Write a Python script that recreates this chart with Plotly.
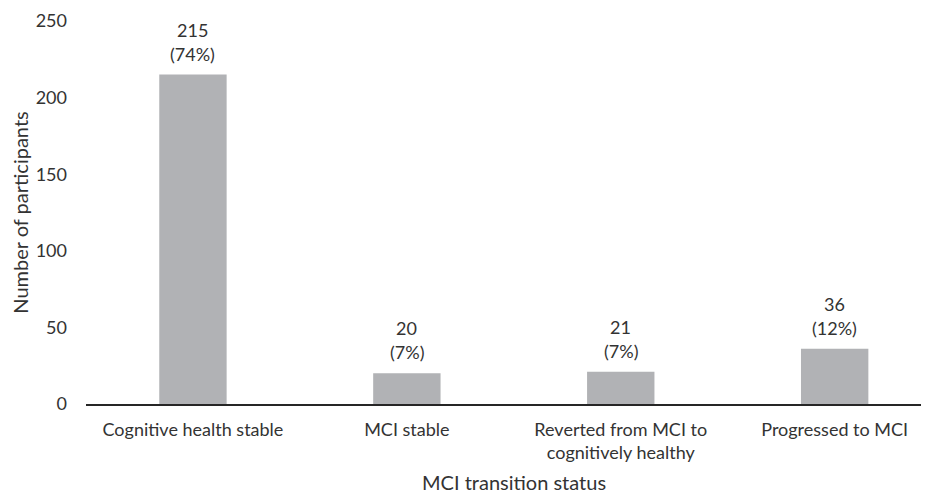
import plotly.graph_objects as go

categories = ["Cognitive health stable", "MCI stable", "Reverted from MCI to<br>cognitively healthy", "Progressed to MCI"]
counts = [215, 20, 21, 36]
percents = ["74%", "7%", "7%", "12%"]
y_ticks = [0, 50, 100, 150, 200, 250]
x_title = "MCI transition status"
y_title = "Number of participants"

FONT = "Lato, 'Open Sans', sans-serif"
TXT = "#333333"
FS = 18
TFS = 20

fig = go.Figure(go.Bar(
    x=list(range(len(categories))),
    y=counts,
    marker=dict(color="#b1b2b5", line=dict(width=0)),
    width=0.315,
    hoverinfo="skip",
))

for i, (v, p) in enumerate(zip(counts, percents)):
    fig.add_annotation(
        x=i, y=v, text=str(v), showarrow=False,
        xanchor="center", yanchor="middle", yshift=45,
        font=dict(family=FONT, size=FS, color=TXT),
    )
    fig.add_annotation(
        x=i, y=v, text=f"({p})", showarrow=False,
        xanchor="center", yanchor="middle", yshift=21,
        font=dict(family=FONT, size=FS, color=TXT),
    )

# x-axis title: the original plot area runs a little past the right edge,
# so its title sits slightly right of the visible centre
fig.add_annotation(
    xref="paper", yref="paper", x=0.5, y=0, xshift=6, yshift=-78,
    xanchor="center", yanchor="middle", showarrow=False,
    text=x_title, font=dict(family=FONT, size=TFS, color=TXT),
)

# page body has an 8px margin, so the figure is sized/placed to compensate
fig.update_layout(
    width=921, height=486,
    margin=dict(l=78, r=0, t=13, b=90),
    paper_bgcolor="white", plot_bgcolor="white",
    font=dict(family=FONT, size=FS, color=TXT),
    showlegend=False,
    xaxis=dict(
        tickmode="array",
        tickvals=list(range(len(categories))),
        ticktext=categories,
        range=[-0.5, 3.441],
        automargin=False,
        showline=True, linecolor="#262626", linewidth=2,
        showgrid=False, zeroline=False, ticks="",
        ticklabelstandoff=8,
        tickfont=dict(family=FONT, size=FS, color=TXT),
    ),
    yaxis=dict(
        range=[0, 250],
        tickvals=y_ticks,
        automargin=False,
        showline=False, showgrid=False, zeroline=False, ticks="",
        ticklabelstandoff=18,
        tickfont=dict(family=FONT, size=FS, color=TXT),
        title=dict(text=y_title, standoff=5,
                   font=dict(family=FONT, size=TFS, color=TXT)),
    ),
)

fig.write_html("out.html")
